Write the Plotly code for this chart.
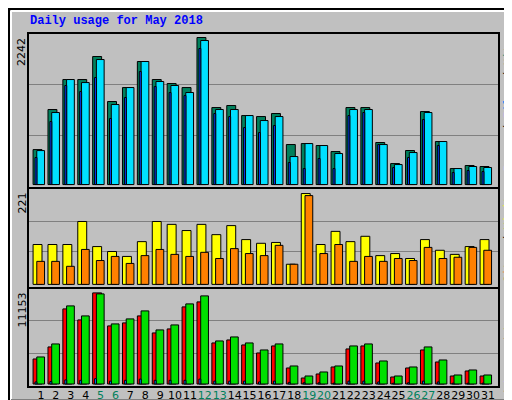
import plotly.graph_objects as go

days = list(range(1, 32))
weekend = [5, 6, 12, 13, 19, 20, 26, 27]
hits = [533, 1144, 1601, 1601, 1952, 1266, 1479, 1876, 1601, 1540, 1479, 2242, 1174, 1205, 1052, 1037,
        1083, 610, 625, 595, 503, 1174, 1174, 641, 320, 519, 1113, 656, 244, 290, 275]
files = [518, 1098, 1601, 1555, 1906, 1220, 1479, 1876, 1571, 1510, 1403, 2196, 1144, 1144, 1052, 976,
         1037, 427, 625, 595, 473, 1144, 1144, 610, 305, 488, 1098, 656, 244, 275, 260]
pages = [412, 961, 1510, 1418, 1632, 1007, 1327, 1723, 1494, 1403, 1357, 2074, 1083, 1037, 869, 793,
         900, 336, 244, 397, 244, 1052, 1098, 610, 259, 412, 991, 595, 183, 214, 198]
visits = [97, 97, 97, 153, 92, 80, 68, 104, 153, 146, 131, 146, 121, 143, 109, 100,
          102, 49, 221, 97, 129, 104, 117, 70, 75, 63, 109, 83, 73, 92, 109]
sites = [56, 56, 44, 85, 58, 68, 51, 70, 85, 73, 68, 78, 63, 87, 75, 70,
         95, 49, 216, 75, 97, 56, 68, 56, 63, 58, 90, 63, 66, 90, 83]
kbf = [3064, 4535, 9192, 7844, 11153, 7109, 7476, 8334, 6250, 6741, 9437, 10050, 5025, 5393, 4780, 3799,
       4657, 1961, 735, 1226, 2084, 4290, 4657, 2574, 858, 1961, 4167, 2696, 980, 1593, 980]
kbin = [250, 300, 500, 450, 650, 350, 450, 600, 450, 450, 450, 600, 350, 350, 350, 250,
        350, 200, 150, 150, 100, 350, 350, 250, 100, 150, 350, 250, 100, 100, 100]
kbout = [3309, 4902, 9560, 8334, 11030, 7354, 7966, 8947, 6618, 7231, 9805, 10785, 5270, 5760, 5025, 4167,
         4902, 2206, 980, 1471, 2206, 4657, 4902, 2819, 980, 2084, 4535, 2941, 1103, 1716, 1103]

BG = "#C0C0C0"
line = dict(color="black", width=1)
fig = go.Figure()

def bar(y, color, off, w, ax):
    fig.add_trace(go.Bar(x=days, y=y, marker=dict(color=color, line=line), offset=off, width=w,
                         xaxis="x", yaxis=ax, showlegend=False, hoverinfo="skip"))

bar(hits, "#00805C", -0.53, 0.6, "y")
bar(files, "#00E0FF", -0.28, 0.52, "y")
bar(pages, "#0040FF", -0.4, 0.13, "y")
bar(visits, "#FFFF00", -0.53, 0.6, "y2")
bar(sites, "#FF8000", -0.28, 0.52, "y2")
bar(kbf, "#FF0000", -0.53, 0.6, "y3")
bar(kbout, "#00E000", -0.28, 0.52, "y3")
bar(kbin, "#0080FF", -0.4, 0.13, "y3")

kt = 2242 / 147
kv = 221 / 91
kk = 11153 / 91
grid = dict(showgrid=True, gridcolor="#808080", gridwidth=1, showticklabels=False, zeroline=False,
            ticks="", fixedrange=True, automargin=False)

ticktext = [f'<span style="color:#00805C">{d}</span>' if d in weekend else str(d) for d in days]

fig.update_layout(
    width=512, height=400, paper_bgcolor=BG, plot_bgcolor=BG, barmode="overlay",
    margin=dict(l=20, r=21, t=25, b=21, autoexpand=False),
    font=dict(family="DejaVu Sans", size=11, color="black"),
    xaxis=dict(range=[0.13, 31.74], tickvals=days, ticktext=ticktext, showgrid=False, tickangle=0,
               ticks="", zeroline=False, tickfont=dict(size=11), anchor="y3", automargin=False),
    yaxis=dict(domain=[0.562, 1], range=[-3.5 * kt, 151.5 * kt], tickvals=[49 * kt, 100 * kt], **grid),
    yaxis2=dict(domain=[0.28, 0.562], range=[-3.5 * kv, 96.5 * kv], tickvals=[33 * kv, 63 * kv], **grid),
    yaxis3=dict(domain=[0, 0.28], range=[-3 * kk, 96 * kk], tickvals=[30 * kk, 63 * kk], **grid),
)

shapes = [
    dict(type="rect", xref="paper", yref="paper", x0=0, x1=1, y0=0.562, y1=1, line=dict(color="black", width=2)),
    dict(type="rect", xref="paper", yref="paper", x0=0, x1=1, y0=0.28, y1=0.562, line=dict(color="black", width=2)),
    dict(type="rect", xref="paper", yref="paper", x0=0, x1=1, y0=0, y1=0.28, line=dict(color="black", width=2)),
]
def px(x, y):
    return (x - 20) / 471, (379 - y) / 354
x0, y0 = px(1, 1); x1, y1 = px(510, 398)
shapes.append(dict(type="rect", xref="paper", yref="paper", x0=x0, x1=x1, y0=y1, y1=y0,
                   line=dict(color="black", width=2)))
xa, ya = px(3, 3); xb, yb = px(505, 393)
shapes.append(dict(type="line", xref="paper", yref="paper", x0=xa, x1=xb, y0=ya, y1=ya, line=dict(color="white", width=2)))
shapes.append(dict(type="line", xref="paper", yref="paper", x0=xa, x1=xa, y0=ya, y1=yb, line=dict(color="white", width=2)))
shapes.append(dict(type="line", xref="paper", yref="paper", x0=xb, x1=xb, y0=ya, y1=yb, line=dict(color="#808080", width=4)))
shapes.append(dict(type="line", xref="paper", yref="paper", x0=xa, x1=xb, y0=yb, y1=yb, line=dict(color="#808080", width=4)))
fig.update_layout(shapes=shapes)

mono = "Liberation Mono"
ann = []
tx, ty = px(20, 13)
ann.append(dict(xref="paper", yref="paper", x=tx, y=ty, text="<b>Daily usage for May 2018</b>", showarrow=False,
                xanchor="left", yanchor="middle", font=dict(family=mono, size=12, color="#0000FF")))
for label, ypix in [("2242", 28), ("221", 183), ("11153", 283)]:
    ax_, ay_ = px(14, ypix)
    ann.append(dict(xref="paper", yref="paper", x=ax_, y=ay_, text=label, textangle=-90, showarrow=False,
                    xanchor="center", yanchor="top", font=dict(family="DejaVu Sans", size=11)))
legends = [
    ('<span style="color:#00C0FF">Pages</span> / <span style="color:#0080FF">Files</span> / <span style="color:#00805C">Hits</span>', 29),
    ('<span style="color:#FF8000">Sites</span> / <span style="color:#FFFF00">Visits</span>', 180),
    ('<span style="color:#FF0000">kB F</span> / <span style="color:#0080FF">kB In</span> / <span style="color:#00C000">kB Out</span>', 281),
]
for txt, ypix in legends:
    lx, ly = px(500, ypix)
    ann.append(dict(xref="paper", yref="paper", x=lx, y=ly, text=txt, textangle=-90, showarrow=False,
                    xanchor="center", yanchor="top", font=dict(family=mono, size=11, color="black")))
fig.update_layout(annotations=ann)

fig.write_html("out.html")
